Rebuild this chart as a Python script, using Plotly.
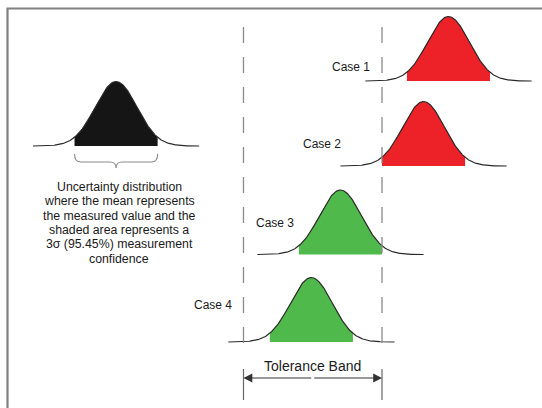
import numpy as np
import plotly.graph_objects as go

# ---------------- data ----------------
case_labels = ["Case 1", "Case 2", "Case 3", "Case 4"]
case_means = [14.8, 13.0, 7.0, 4.9]          # measured values (tolerance units)
ref_mean = -9.2                               # example distribution
sigma = 1.5                                   # measurement standard deviation
tolerance = [0.0, 10.0]                       # tolerance band limits
coverage_k = 2                                # shaded +/- k sigma
tail_k = 4                                    # curve drawn to +/- tail_k sigma
description_lines = [
    "Uncertainty distribution",
    "where the mean represents",
    "the measured value and the",
    "shaded area represents a",
    "3σ (95.45%) measurement",
    "confidence",
]
band_label = "Tolerance Band"

# ---------------- layout constants ----------------
W, H = 542, 408
PX0, SCALE = 243.5, 13.85        # pixel of tolerance lower limit, px per unit
def px2u(px):
    return (px - PX0) / SCALE

row_base = [81, 166, 254.5, 342]
ref_base = 146
peak_h = 64.5
label_pos = [(372, 67), (343, 144), (296, 223), (234, 305)]
desc_x, desc_y0, desc_dy = 119, 187, 14.3

RED, GREEN, BLACKFILL = "#EC2228", "#50B94B", "#151515"
CURVE = "#2a2a2a"
FONT = "Liberation Sans, Arial, sans-serif"

fig = go.Figure()

def add_dist(mean, base, fillcolor):
    x = np.linspace(mean - tail_k * sigma, mean + tail_k * sigma, 400)
    y = base - peak_h * np.exp(-0.5 * ((x - mean) / sigma) ** 2)
    xs = np.linspace(mean - coverage_k * sigma, mean + coverage_k * sigma, 300)
    ys = base - peak_h * np.exp(-0.5 * ((xs - mean) / sigma) ** 2)
    fx = np.concatenate([xs, xs[::-1]])
    fy = np.concatenate([ys, np.full_like(xs, base)])
    fig.add_trace(go.Scatter(x=fx, y=fy, fill="toself", fillcolor=fillcolor,
                             mode="lines", line=dict(width=0, color=fillcolor),
                             hoverinfo="skip", showlegend=False))
    fig.add_trace(go.Scatter(x=x, y=y, mode="lines",
                             line=dict(color=CURVE, width=1.2),
                             hoverinfo="skip", showlegend=False))

lo, hi = tolerance
for m, b in zip(case_means, row_base):
    inside = (m - coverage_k * sigma >= lo) and (m + coverage_k * sigma <= hi)
    add_dist(m, b, GREEN if inside else RED)
add_dist(ref_mean, ref_base, BLACKFILL)

# dashed tolerance limits
for t in tolerance:
    fig.add_trace(go.Scatter(x=[t, t], y=[27, 350], mode="lines",
                             line=dict(color="#8a8a8a", width=1.3, dash="16px,14px"),
                             hoverinfo="skip", showlegend=False))
    fig.add_trace(go.Scatter(x=[t, t], y=[369, 400], mode="lines",
                             line=dict(color="#666666", width=1.2),
                             hoverinfo="skip", showlegend=False))

# dimension arrow
mid = (lo + hi) / 2
for t in tolerance:
    fig.add_annotation(x=t, y=378, ax=mid, ay=378, xref="x", yref="y",
                       axref="x", ayref="y", text="", showarrow=True,
                       arrowhead=2, arrowsize=1.6, arrowwidth=1.1,
                       arrowcolor="#333333", standoff=0, startstandoff=0)
fig.add_annotation(x=mid, y=366, text=band_label, showarrow=False,
                   font=dict(family=FONT, size=14, color="#1a1a1a"))

# case labels
for lab, (lx, ly) in zip(case_labels, label_pos):
    fig.add_annotation(x=px2u(lx), y=ly, text=lab, showarrow=False,
                       xanchor="right", font=dict(family=FONT, size=12, color="#1a1a1a"))

# description
for i, line in enumerate(description_lines):
    fig.add_annotation(x=px2u(desc_x), y=desc_y0 + i * desc_dy, text=line,
                       showarrow=False, xanchor="center",
                       font=dict(family=FONT, size=12.3, color="#1a1a1a"))

# brace under the reference distribution
a = ref_mean - coverage_k * sigma
b = ref_mean + coverage_k * sigma
d = 4 / SCALE
path = (f"M {a},154 Q {a},162 {a+d*1.5},162 L {ref_mean-d*1.5},162 "
        f"Q {ref_mean},162 {ref_mean},168 Q {ref_mean},162 {ref_mean+d*1.5},162 "
        f"L {b-d*1.5},162 Q {b},162 {b},154")
fig.add_shape(type="path", path=path, xref="x", yref="y",
              line=dict(color="#8a8a8a", width=1.1))

# frame
fig.add_shape(type="rect", xref="paper", yref="paper",
              x0=7.5 / W, x1=1.05, y0=-0.05, y1=1 - 8.5 / H,
              line=dict(color="#808080", width=2.2))

fig.update_layout(
    width=W, height=H, margin=dict(l=0, r=0, t=0, b=0),
    paper_bgcolor="white", plot_bgcolor="white",
    xaxis=dict(range=[px2u(0), px2u(W)], visible=False, fixedrange=True),
    yaxis=dict(range=[H, 0], visible=False, fixedrange=True),
    showlegend=False,
)
fig.write_html("out.html", config={"displayModeBar": False},
               post_script="document.body.style.margin='0px';document.body.style.overflow='hidden';")
